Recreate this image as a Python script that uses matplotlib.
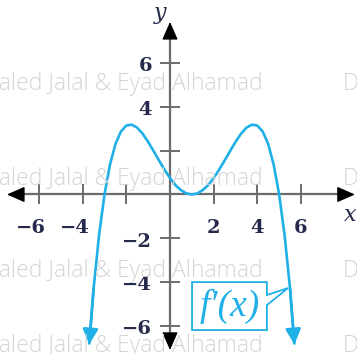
import matplotlib
matplotlib.use("Agg")
import matplotlib.pyplot as plt
from matplotlib.patches import Polygon

# f'(x) sampled along the curve
fx = [-3.7, -3.5, -3.25, -3.0, -2.75, -2.5, -2.25, -2.0, -1.75, -1.5, -1.25,
      -1.0, -0.75, -0.5, -0.25, 0.0, 0.25, 0.5, 0.75, 1.0, 1.25, 1.5, 1.75,
      2.0, 2.25, 2.5, 2.75, 3.0, 3.25, 3.5, 3.75, 4.0, 4.25, 4.5, 4.75, 5.0,
      5.25, 5.5, 5.7]
fy = [-6.85, -4.30, -1.86, 0.0, 1.36, 2.30, 2.87, 3.15, 3.19, 3.05, 2.77,
      2.40, 1.98, 1.55, 1.13, 0.75, 0.43, 0.20, 0.05, 0.0, 0.05, 0.20, 0.43,
      0.75, 1.13, 1.55, 1.98, 2.40, 2.77, 3.05, 3.19, 3.15, 2.87, 2.30, 1.36,
      0.0, -1.86, -4.30, -6.85]

x_ticks = [-6, -4, -2, 2, 4, 6]
y_ticks = [-6, -4, -2, 2, 4, 6]
x_labels = {-6: "\u22126", -4: "\u22124", 2: "2", 4: "4", 6: "6"}
y_labels = {6: "6", 4: "4", -2: "\u22122", -4: "\u22124", -6: "\u22126"}
curve_label = "f\u2032(x)"
watermark = "Khaled Jalal & Eyad Alhamad"

W, H = 357, 354
fig = plt.figure(figsize=(W / 100, H / 100), dpi=100)
ax = fig.add_axes([0, 0, 1, 1])
ax.set_xlim(-7.787, 8.566)
ax.set_ylim(-7.283, 8.881)
ax.set_facecolor("white")

CURVE = "#1eb0e6"
AXIS = "#6b6b6b"
LABEL = "#25294a"

# faint background watermark rows
for base in [90, 185, 277, 352]:
    fig.text(263 / W, 1 - base / H, watermark, ha="right", va="baseline",
             fontsize=16.5, family="Open Sans", fontweight="light",
             color="#d4d4d4", zorder=0)
    fig.text(343 / W, 1 - base / H, "D", ha="left", va="baseline",
             fontsize=16.5, family="Open Sans", fontweight="light",
             color="#d4d4d4", zorder=0)

# axes through the origin
for s in ["top", "right"]:
    ax.spines[s].set_visible(False)
ax.spines["bottom"].set_position(("data", 0))
ax.spines["left"].set_position(("data", 0))
ax.spines["bottom"].set_bounds(-7.2, 8.2)
ax.spines["left"].set_bounds(-6.8, 7.6)
for s in ["bottom", "left"]:
    ax.spines[s].set_color(AXIS)
    ax.spines[s].set_linewidth(1.6)
    ax.spines[s].set_zorder(2)
ax.set_xticks(x_ticks)
ax.set_yticks(y_ticks)
ax.tick_params(direction="inout", length=14, width=1.4, color=AXIS,
               labelbottom=False, labelleft=False)

arrow_kw = dict(arrowstyle="-|>,head_length=0.5,head_width=0.22",
                color="black", mutation_scale=22, shrinkA=0, shrinkB=0)
ax.annotate("", xy=(8.47, 0), xytext=(7.8, 0), arrowprops=arrow_kw, zorder=3)
ax.annotate("", xy=(-7.47, 0), xytext=(-6.8, 0), arrowprops=arrow_kw, zorder=3)
ax.annotate("", xy=(0, 7.88), xytext=(0, 7.2), arrowprops=arrow_kw, zorder=3)
ax.annotate("", xy=(0, -7.1), xytext=(0, -6.4), arrowprops=arrow_kw, zorder=3)

# tick labels
num_font = dict(family="DejaVu Serif", fontweight="bold", fontsize=14,
                color=LABEL)
for v, t in x_labels.items():
    if v < 0:
        ax.text(v + 0.33, -1.53, t, ha="right", va="center", **num_font)
    else:
        ax.text(v, -1.53, t, ha="center", va="center", **num_font)
for v, t in y_labels.items():
    ax.text(-0.82, v - 0.15, t, ha="right", va="center", **num_font)

ax.text(8.25, -0.95, "x", ha="center", va="center", family="DejaVu Serif",
        style="italic", fontsize=16, color=LABEL)
ax.text(-0.45, 8.3, "y", ha="center", va="center", family="DejaVu Serif",
        style="italic", fontsize=16, color=LABEL)

# the curve with arrowheads at both ends
ax.plot(fx, fy, color=CURVE, lw=1.9, solid_capstyle="butt", zorder=4)
curve_arrow = dict(arrowstyle="-|>,head_length=0.4,head_width=0.2",
                   color=CURVE, mutation_scale=23, shrinkA=0, shrinkB=0,
                   lw=1.9)
ax.annotate("", xy=(fx[-1], fy[-1]), xytext=(fx[-2], fy[-2]),
            arrowprops=curve_arrow, zorder=4)
ax.annotate("", xy=(fx[0], fy[0]), xytext=(fx[1], fy[1]),
            arrowprops=curve_arrow, zorder=4)

# callout box naming the curve
box = Polygon([(1.01, -4.0), (4.44, -4.0), (4.44, -4.59), (5.41, -4.27),
               (4.44, -5.05), (4.44, -6.19), (1.01, -6.19)], closed=True,
              facecolor="white", edgecolor=CURVE, lw=1.3, zorder=5)
ax.add_patch(box)
ax.text(2.75, -5.12, curve_label, ha="center", va="center",
        family=["Liberation Serif", "DejaVu Serif"], style="italic",
        fontsize=27, color=CURVE, zorder=6)

fig.savefig("out.png", dpi=100)
